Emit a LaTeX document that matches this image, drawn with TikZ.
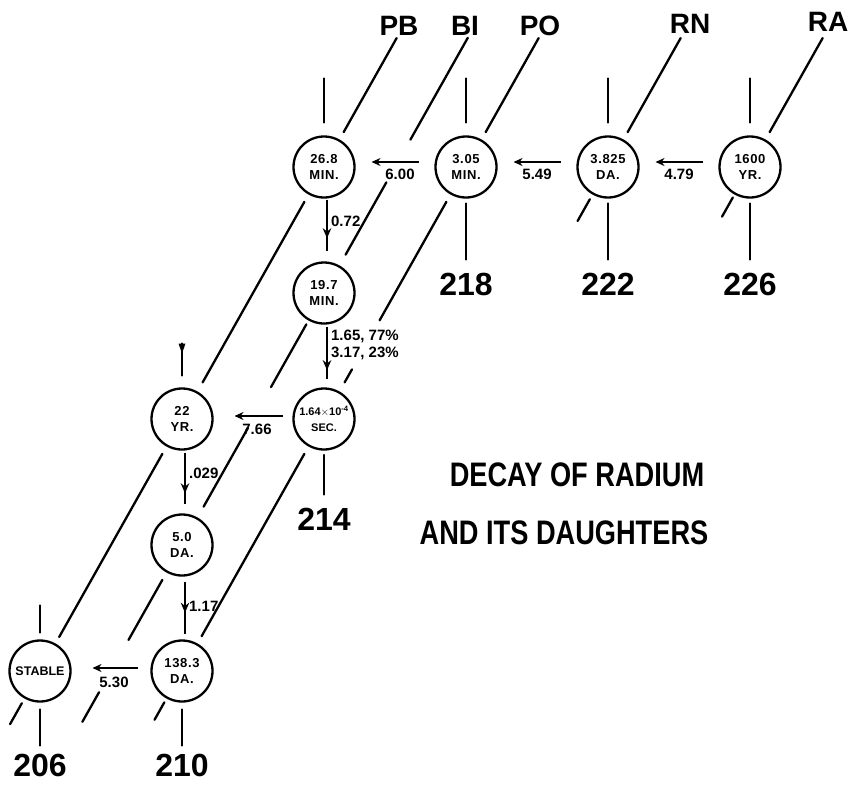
\documentclass[tikz,border=0pt]{standalone}
\usepackage{fontspec}
\setmainfont{Liberation Sans}
\newfontfamily\narrowsf[FakeStretch=0.8]{Liberation Sans}
\newfontfamily\isofont[LetterSpace=5]{Liberation Sans}
\usetikzlibrary{positioning, arrows.meta, calc, decorations.markings}

\begin{document}
\begin{tikzpicture}[x=1pt, y=1pt,
    iso/.style={draw, circle, line width=2.3pt, minimum size=61pt, inner sep=0pt, outer sep=0pt,
      align=center, font=\isofont\fontsize{13}{16.5}\selectfont\bfseries},
    elem/.style={font=\fontsize{28}{28}\selectfont\bfseries, inner sep=0pt},
    mass/.style={font=\fontsize{32}{32}\selectfont\bfseries, inner sep=0pt},
    titletext/.style={font=\narrowsf\fontsize{34}{34}\selectfont\bfseries, inner sep=0pt},
    elemline/.style={line width=2.3pt, line cap=round},
    masstick/.style={line width=2.3pt, line cap=round},
    alpha/.style={-{Stealth[length=9pt, width=8pt]}, line width=2.3pt, shorten <=17pt, shorten >=17pt},
    beta/.style={line width=2.3pt, postaction={decorate},
      decoration={markings, mark=at position #1 with {\arrow{Stealth[length=10pt, width=8.5pt]}}}},
    beta/.default=0.8,
    lbl/.style={font=\fontsize{15}{16.5}\selectfont\bfseries, inner sep=3pt},
    node distance=65pt and 81pt]
  \useasboundingbox (0,0) rectangle (850,-784);

  % isotopes, one column per mass number
  \node[iso] (ra226) at (750,-167) {1600\\YR.};
  \node[iso, left=of ra226] (rn222) {3.825\\DA.};
  \node[iso, left=of rn222] (po218) {3.05\\MIN.};
  \node[iso, left=of po218] (pb214) {26.8\\MIN.};
  \node[iso, below=of pb214] (bi214) {19.7\\MIN.};
  \node[iso, below=of bi214, font=\fontsize{11}{16.5}\selectfont\bfseries] (po214) {1.64$\times$10\textsuperscript{-4}\\SEC.};
  \node[iso, left=of po214] (pb210) {22\\YR.};
  \node[iso, below=of pb210] (bi210) {5.0\\DA.};
  \node[iso, below=of bi210] (po210) {138.3\\DA.};
  \node[iso, left=of po210, font=\fontsize{12.5}{16}\selectfont\bfseries] (pb206) {STABLE};

  % element names and mass numbers
  \node[elem] (pb) at (399,-26) {PB};
  \node[elem] (bi) at (465,-26) {BI};
  \node[elem] (po) at (540,-26) {PO};
  \node[elem] (rn) at (690,-24) {RN};
  \node[elem] (ra) at (828,-22) {RA};

  \node[mass, below=75pt of ra226] (m226) {226};
  \node[mass, below=75pt of rn222] (m222) {222};
  \node[mass, below=75pt of po218] (m218) {218};
  \node[mass, below=58pt of po214] (m214) {214};
  \node[mass, below=52pt of po210] (m210) {210};
  \node[mass, below=52pt of pb206] (m206) {206};

  \node[titletext] (title1) at (577,-475) {DECAY OF RADIUM};
  \node[titletext] (title2) at (564,-533) {AND ITS DAUGHTERS};

  % mass number ticks
  \foreach \n/\m/\a/\b in {ra226/m226/6/13, rn222/m222/6/13, po218/m218/6/13,
      po214/m214/5.5/13, po210/m210/8/8, pb206/m206/8/8}
    \draw[masstick] ([yshift=-\a pt]\n.south) -- ([yshift=\b pt]\m.north);
  \foreach \n in {ra226, rn222, po218, pb214}
    \draw[masstick] ([yshift=14pt]\n.north) -- ++(0,44);
  \draw[masstick] ([yshift=13pt]pb210.north) -- ++(0,32) coordinate (blot);
  \fill (blot) ++(-3.5,0) -- ++(7,0) -- ++(-3.5,-10) -- cycle;
  \draw[masstick] ([yshift=8pt]pb206.north) -- ++(0,27);

  % element lines
  \foreach \n in {pb214, po218, rn222, ra226}
    \draw[elemline] ($(\n)+(60.6:40)$) -- ($(\n)+(60.6:148)$);
  \draw[elemline] ($(pb214)!40pt!(pb210)$) -- ($(pb210)!42pt!(pb214)$);
  \draw[elemline] ($(pb210)!40pt!(pb206)$) -- ($(pb206)!39pt!(pb210)$);
  \draw[elemline] ($(pb206)+(240.6:37)$) -- ($(pb206)+(240.6:61)$);

  \draw[elemline] ($(bi214)+(60.6:44)$) -- ($(bi214)+(60.6:127)$);
  \draw[elemline] ($(bi214)+(60.6:176)$) -- ($(bi214)+(60.6:293)$);
  \draw[elemline] ($(bi214)!36pt!(bi210)$) -- ($(bi214)!108pt!(bi210)$);
  \draw[elemline] ($(bi214)!155pt!(bi210)$) -- ($(bi210)!44pt!(bi214)$);
  \draw[elemline] ($(bi210)+(240.6:40)$) -- ($(bi210)+(240.6:109)$);
  \draw[elemline] ($(bi210)+(240.6:169)$) -- ($(bi210)+(240.6:203)$);

  \draw[elemline] ($(po218)!40pt!(po214)$) -- ($(po218)!176pt!(po214)$);
  \draw[elemline] ($(po214)!57pt!(po218)$) -- ($(po214)!42pt!(po218)$);
  \draw[elemline] ($(po214)!40pt!(po210)$) -- ($(po210)!40pt!(po214)$);
  \draw[elemline] ($(po210)+(240.6:36)$) -- ($(po210)+(240.6:56)$);

  \draw[elemline] ($(rn222)+(240.6:37)$) -- ($(rn222)+(240.6:62)$);
  \draw[elemline] ($(ra226)+(240.6:35)$) -- ($(ra226)+(240.6:57)$);

  % alpha decays
  \draw[alpha] ([yshift=5pt]ra226.west) -- ([yshift=5pt]rn222.east) node[lbl, midway, below=3pt] {4.79};
  \draw[alpha] ([yshift=5pt]rn222.west) -- ([yshift=5pt]po218.east) node[lbl, midway, below=3pt] {5.49};
  \draw[alpha] ([yshift=5pt]po218.west) -- ([yshift=5pt]pb214.east) node[lbl, midway, below=3pt, xshift=5pt] {6.00};
  \draw[alpha, shorten <=11pt, shorten >=22pt] ([yshift=3pt]po214.west) -- ([yshift=3pt]pb210.east)
    node[lbl, midway, below=4pt, xshift=4pt] {7.66};
  \draw[alpha, shorten <=14pt, shorten >=22pt] ([yshift=3pt]po210.west) -- ([yshift=3pt]pb206.east)
    node[lbl, midway, below=5pt, xshift=3pt] {5.30};

  % beta decays
  \draw[beta=0.76] ([xshift=3pt, yshift=-2pt]pb214.south) -- ([xshift=3pt, yshift=12pt]bi214.north)
    node[lbl, pos=0.42, right=0pt] {0.72};
  \draw[beta=0.84] ([xshift=3pt, yshift=-3pt]bi214.south) -- ([xshift=3pt, yshift=10pt]po214.north)
    node[lbl, pos=0.35, right=0pt, align=left] {1.65, 77\%\\3.17, 23\%};
  \draw[beta=0.8] ([xshift=3pt, yshift=-3pt]pb210.south) -- ([xshift=3pt, yshift=11pt]bi210.north)
    node[lbl, pos=0.4, right=0pt] {.029};
  \draw[beta=0.6] ([xshift=3pt, yshift=-6pt]bi210.south) -- ([xshift=3pt, yshift=7pt]po210.north)
    node[lbl, pos=0.48, right=0pt] {1.17};
\end{tikzpicture}
\end{document}
